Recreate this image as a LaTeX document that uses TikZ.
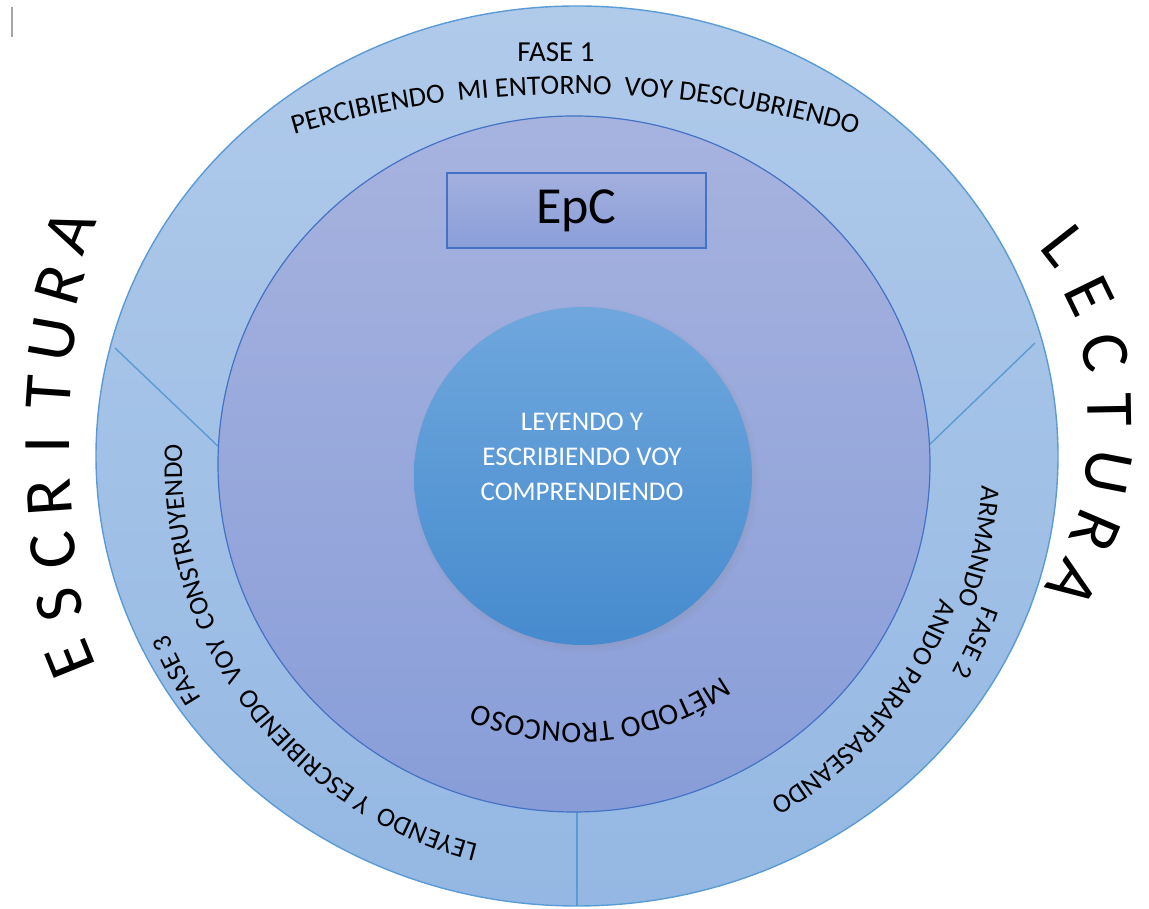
\documentclass[tikz,border=0pt]{standalone}
\usepackage{fontspec}
\setmainfont{Carlito}
\usetikzlibrary{decorations.text,shadows}

\definecolor{ringtop}{RGB}{176,202,234}
\definecolor{ringbot}{RGB}{148,184,227}
\definecolor{ringline}{RGB}{91,155,213}
\definecolor{midtop}{RGB}{167,179,223}
\definecolor{midbot}{RGB}{136,157,216}
\definecolor{midline}{RGB}{68,114,196}
\definecolor{coretop}{RGB}{111,167,221}
\definecolor{corebot}{RGB}{70,139,206}
\definecolor{boxtop}{RGB}{163,176,223}
\definecolor{boxbot}{RGB}{138,158,216}

\newcommand{\ringfont}{\fontsize{27}{27}\selectfont}

\tikzset{
	ringtext/.style={decorate, decoration={text along path, text align=center, text={#1}}},
	bigletter/.style={font=\fontsize{68}{68}\selectfont, inner sep=0pt},
	divider/.style={draw=ringline, line width=1.4pt},
	core/.style={circle, minimum size=338pt, top color=coretop, bottom color=corebot,
		circular drop shadow={opacity=0.5, shadow xshift=2pt, shadow yshift=-3pt, shadow scale=1.03}},
	coretext/.style={text=white, align=center, font=\fontsize{27}{35}\selectfont},
	epcbox/.style={draw=midline, line width=1.2pt, top color=boxtop, bottom color=boxbot,
		minimum width=259pt, minimum height=75pt, font=\fontsize{52}{52}\selectfont, inner sep=0pt}
}

\begin{document}
\begin{tikzpicture}[x=1pt, y=1pt]
	\useasboundingbox (0,0) rectangle (1149,909);
	\coordinate (O) at (577,453);
	\coordinate (M) at (574,445);

	\draw[gray!70, line width=1.5pt] (12,872) -- (12,902);

	% outer ring
	\draw[draw=ringline, line width=1.4pt, top color=ringtop, bottom color=ringbot] (O) ellipse [x radius=481, y radius=450];
	\coordinate (ulo) at (115,561);
	\coordinate (uli) at (222,459);
	\coordinate (uro) at (1035,566);
	\coordinate (uri) at (926,461);
	\coordinate (bo) at (577,3);
	\coordinate (bi) at (577,100);
	\draw[divider] (ulo) -- (uli);
	\draw[divider] (uro) -- (uri);
	\draw[divider] (bo) -- (bi);

	% middle disc
	\draw[draw=midline, line width=1.2pt, top color=midtop, bottom color=midbot] (M) ellipse [x radius=356, y radius=348];

	\node[epcbox] (epc) at (576.5,698.5) {EpC};
	\node[core] (core) at (583,433) {};
	\node[coretext] (msg) at (582,452) {LEYENDO Y\\ESCRIBIENDO VOY\\COMPRENDIENDO};

	% fase 1
	\node[font=\fontsize{29}{29}\selectfont] (fase1) at (556,857) {FASE 1};
	\path[ringtext={|\fontsize{28}{28}\selectfont|PERCIBIENDO {\ }MI ENTORNO {\ }VOY DESCUBRIENDO}]
		([shift={(112:1000)}]575,-185) arc[start angle=112, end angle=68, radius=1000];

	% fase 2
	\path[ringtext={|\ringfont|ARMANDO}] ([shift={(9:408)}]M) arc[start angle=9, end angle=-32, radius=408];
	\path[ringtext={|\ringfont|FASE 2}] ([shift={(-9:432)}]M) arc[start angle=-9, end angle=-39, radius=432];
	\path[ringtext={|\ringfont|ANDO PARAFRASEANDO}] ([shift={(-5:390)}]M) arc[start angle=-5, end angle=-75, radius=390];

	% fase 3
	\path[ringtext={|\ringfont|LEYENDO {\ }Y ESCRIBIENDO {\ }VOY {\ }CONSTRUYENDO}] ([shift={(270:392)}]M) arc[start angle=270, end angle=163, radius=392];
	\path[ringtext={|\ringfont|FASE 3}] ([shift={(222.5:440)}]M) arc[start angle=222.5, end angle=192.5, radius=440];

	\path[ringtext={|\fontsize{30}{30}\selectfont|M{É}TODO TRONCOSO}] ([shift={(-40:259)}]M) arc[start angle=-40, end angle=-127.4, radius=259];

	% big words
	\foreach \ch/\x/\y/\r [count=\i] in {E/70/250/112, S/60/304/104, C/53/358/98, R/49/411/94, I/48/464/90, T/49/517/86, U/53/570/80, R/60/624/74, A/70/678/68}
		\node[bigletter, rotate=\r] (escr\i) at (\x,\y) {\ch};
	\foreach \ch/\x/\y/\r [count=\i] in {L/1064/664/-52, E/1089/613/-64, C/1105/557/-77, T/1110/499/-89, U/1107/437/-101, R/1095/378/-113, A/1073/325/-125}
		\node[bigletter, rotate=\r] (lect\i) at (\x,\y) {\ch};
\end{tikzpicture}
\end{document}
